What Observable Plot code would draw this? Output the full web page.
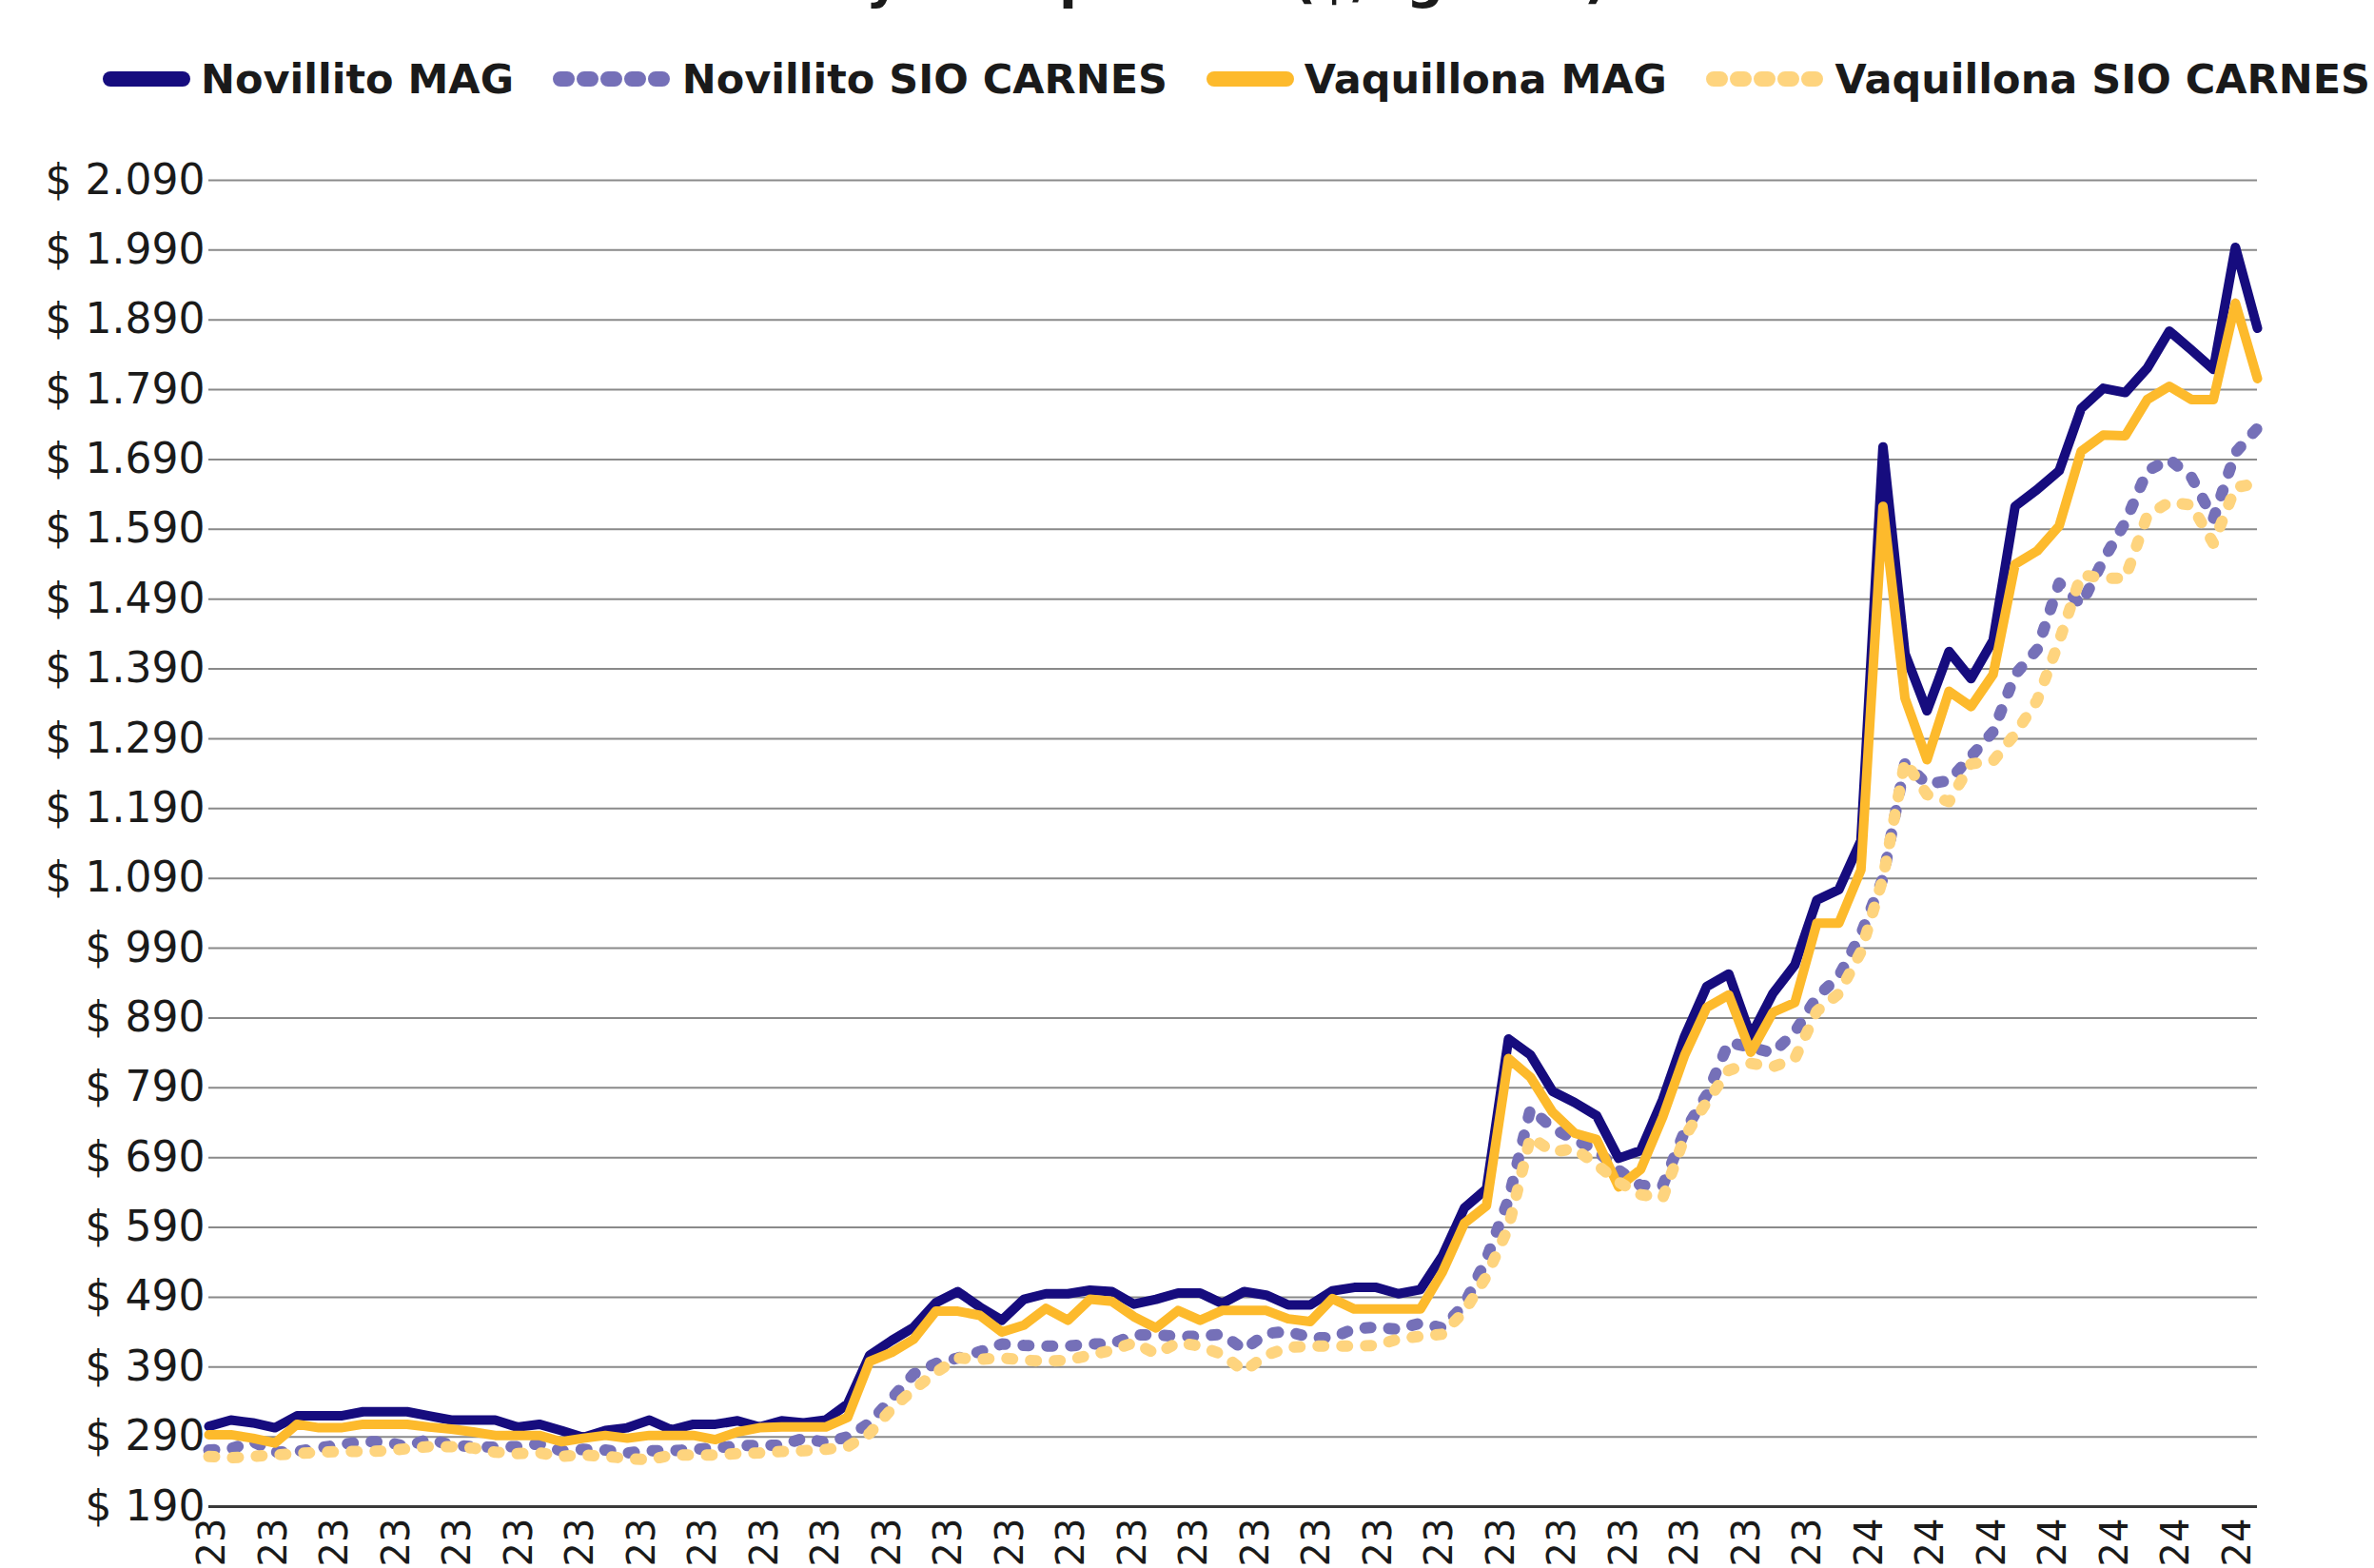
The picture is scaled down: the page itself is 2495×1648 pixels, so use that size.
<!DOCTYPE html>
<html><head><meta charset="utf-8">
<script src="https://cdn.jsdelivr.net/npm/d3@7"></script>
<script src="https://cdn.jsdelivr.net/npm/@observablehq/plot@0.6"></script>
<style>
html,body{margin:0;padding:0;background:#fff;overflow:hidden;}
body{width:2495px;height:1648px;position:relative;font-family:"DejaVu Sans",sans-serif;color:#1a1a1a;}
#title{position:relative;height:0;}
#title span{position:absolute;top:-54px;right:805px;font-weight:bold;font-size:55px;white-space:nowrap;line-height:1.164;}
#legend{height:130px;position:relative;}
#legend .row{position:absolute;left:108px;right:4px;top:58px;height:50px;display:flex;align-items:center;justify-content:space-between;}
.item{display:flex;align-items:center;gap:11px;font-weight:bold;font-size:43px;white-space:nowrap;}
.item svg{display:block;}
</style></head>
<body>
<div id="title"><span>Evolución MAG y SIO: precios ($/kg vivo)</span></div>
<div id="legend"><div class="row"></div></div>
<div id="chart"></div>
<script>
// ---- data ----
const seriesNames = ["Novillito MAG", "Novillito SIO CARNES", "Vaquillona MAG", "Vaquillona SIO CARNES"];
const seriesColors = ["#160c7e", "#7570b8", "#fdba2c", "#fed47e"];

const novilloMAG = [
305, 314, 310, 303, 320, 320, 320, 326, 326, 326,
320, 314, 314, 314, 304, 308, 299, 289, 299, 303,
314, 300, 308, 308, 313, 304, 313, 310, 314, 337,
407, 428, 447, 482, 498, 476, 457, 487, 495, 495,
500, 498, 480, 487, 496, 496, 481, 498, 493, 479,
479, 499, 504, 504, 495, 501, 549, 618, 645, 860,
837, 785, 769, 750, 689, 700, 773, 864, 935, 953,
864, 925, 966, 1059, 1074, 1144, 1708, 1412, 1330, 1415,
1376, 1431, 1623, 1647, 1674, 1763, 1792, 1786, 1821, 1874,
1847, 1819, 1994, 1878];

const novilloSIO = [
271, 273, 283, 268, 269, 274, 279, 283, 283, 276,
287, 278, 276, 275, 276, 280, 270, 272, 271, 267,
270, 270, 272, 274, 277, 278, 278, 288, 282, 290,
310, 345, 380, 395, 403, 412, 423, 421, 420, 420,
423, 423, 436, 436, 434, 434, 437, 415, 438, 441,
432, 432, 445, 447, 444, 453, 446, 480, 545, 630,
760, 732, 716, 700, 672, 650, 650, 728, 780, 855,
848, 840, 870, 920, 950, 1010, 1090, 1255, 1225, 1230,
1265, 1300, 1382, 1418, 1513, 1482, 1546, 1600, 1674, 1690,
1665, 1605, 1700, 1735];

const vaquillonaMAG = [
293, 293, 288, 281, 308, 303, 303, 308, 308, 308,
304, 301, 297, 292, 292, 292, 283, 288, 292, 288,
292, 292, 292, 286, 297, 303, 304, 304, 304, 318,
398, 411, 430, 470, 470, 464, 440, 450, 474, 457,
487, 484, 462, 446, 471, 457, 471, 471, 471, 459,
455, 488, 473, 473, 473, 473, 526, 596, 621, 832,
805, 755, 725, 716, 648, 673, 748, 837, 905, 923,
841, 898, 912, 1026, 1026, 1102, 1623, 1348, 1260, 1358,
1336, 1382, 1540, 1559, 1595, 1702, 1725, 1724, 1776, 1795,
1776, 1776, 1914, 1806];

const vaquillonaSIO = [
262, 260, 262, 264, 266, 268, 269, 269, 270, 273,
276, 276, 274, 268, 266, 267, 262, 264, 262, 259,
257, 264, 264, 264, 266, 267, 269, 270, 272, 276,
295, 330, 358, 382, 403, 401, 403, 400, 398, 400,
407, 414, 425, 409, 425, 420, 408, 384, 407, 418,
420, 420, 420, 421, 430, 434, 437, 470, 520, 590,
720, 698, 703, 680, 655, 637, 632, 720, 770, 815,
825, 820, 832, 900, 925, 985, 1090, 1258, 1210, 1200,
1254, 1258, 1297, 1345, 1430, 1525, 1520, 1520, 1610, 1629,
1625, 1570, 1650, 1656];

const xLabels = [
"23","23","23","23","23","23","23","23","23","23",
"23","23","23","23","23","23","23","23","23","23",
"23","23","23","23","23","23","23",
"24","24","24","24","24","24","24"];

const yTicks = [190, 290, 390, 490, 590, 690, 790, 890, 990, 1090, 1190, 1290, 1390, 1490, 1590, 1690, 1790, 1890, 1990, 2090];

// ---- build ----
const allValues = [novilloMAG, novilloSIO, vaquillonaMAG, vaquillonaSIO];
const dashed = [false, true, false, true];
const N = novilloMAG.length;
const labelStep = 2.786, labelStart = 0.17;   // label spacing relative to data points
const xTickPos = xLabels.map((d, k) => labelStart + k * labelStep);

const locale = d3.formatLocale({decimal: ",", thousands: ".", grouping: [3], currency: ["$ ", ""]});
const fmt = locale.format("$,.0f");

const table = allValues.map((vals, s) => vals.map((v, i) => ({i, v, s})));

// legend
const row = d3.select("#legend .row");
seriesNames.forEach((name, s) => {
  const item = row.append("div").attr("class", "item");
  const w = dashed[s] ? 125 : 92;
  const svg = item.append("svg").attr("width", w).attr("height", 18);
  svg.append("line")
    .attr("x1", 8).attr("x2", w - 8).attr("y1", 9).attr("y2", 9)
    .attr("stroke", seriesColors[s]).attr("stroke-width", 16)
    .attr("stroke-linecap", "round")
    .attr("stroke-dasharray", dashed[s] ? "7,18" : null);
  item.append("span").text(name);
});

const lineMarks = table.map((rows, s) => Plot.line(rows, {
  x: "i", y: "v",
  stroke: seriesColors[s],
  strokeWidth: dashed[s] ? 12 : 10,
  strokeLinecap: "round",
  strokeLinejoin: "round",
  strokeDasharray: dashed[s] ? "6,19" : undefined
}));

const chart = Plot.plot({
  width: 2495,
  height: 1518,
  marginLeft: 219,
  marginRight: 123,
  marginTop: 59,
  marginBottom: 65,
  x: {domain: [0, N - 1], axis: null},
  y: {domain: [190, 2090], axis: null},
  style: {fontFamily: "DejaVu Sans, sans-serif", background: "#fff", color: "#1a1a1a", overflow: "visible"},
  marks: [
    Plot.gridY(yTicks.slice(1), {stroke: "#8a8a8a", strokeOpacity: 1, strokeWidth: 2}),
    Plot.ruleY([190], {stroke: "#3a3a3a", strokeWidth: 3}),
    Plot.axisY(yTicks, {tickSize: 0, tickPadding: 4, tickFormat: fmt, fontSize: 44, fill: "#1a1a1a", label: null}),
    ...lineMarks,
    Plot.text(xLabels, {
      x: (d, k) => xTickPos[k],
      frameAnchor: "bottom",
      text: d => d,
      rotate: -90,
      textAnchor: "end",
      lineAnchor: "middle",
      dy: 12,
      fontSize: 40,
      fill: "#1a1a1a"
    })
  ]
});
document.getElementById("chart").appendChild(chart);
</script>
</body></html>
